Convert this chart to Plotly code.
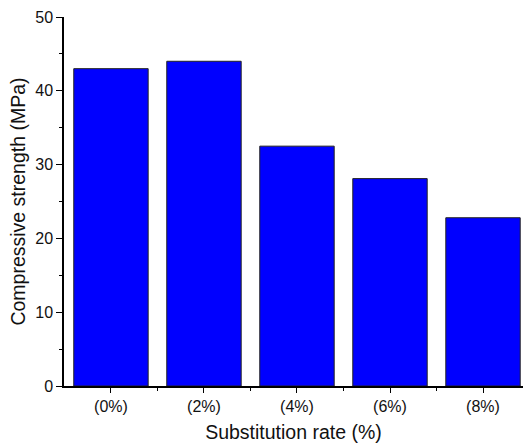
import plotly.graph_objects as go

categories = ["(0%)", "(2%)", "(4%)", "(6%)", "(8%)"]
strength = [43.0, 44.0, 32.5, 28.1, 22.8]
y_ticks = [0, 10, 20, 30, 40, 50]

xpos = list(range(len(categories)))

fig = go.Figure()
fig.add_trace(go.Bar(
    x=xpos, y=strength, width=0.8,
    marker=dict(color="#0000FF", line=dict(color="#222222", width=1)),
))

font = "Liberation Sans, Arial, sans-serif"
fig.update_layout(
    width=523, height=443,
    margin=dict(l=64, r=0, t=17, b=57, autoexpand=False),
    plot_bgcolor="white", paper_bgcolor="white",
    showlegend=False,
    font=dict(family=font, size=16, color="#111111"),
    xaxis=dict(
        range=[-0.505, 4.43],
        tickmode="array", tickvals=xpos, ticktext=categories,
        ticks="outside", ticklen=5, tickwidth=1.3, tickcolor="black",
        showline=True, linecolor="black", linewidth=1.5,
        showgrid=False, zeroline=False, automargin=False,
        minor=dict(tickmode="array", tickvals=[0.5, 1.5, 2.5, 3.5], ticks="outside",
                   ticklen=3, tickwidth=1.3, tickcolor="black", showgrid=False),
        title=dict(text="Substitution rate (%)", font=dict(size=19.5), standoff=12),
        tickfont=dict(size=16),
    ),
    yaxis=dict(
        range=[0, 50],
        tickmode="array", tickvals=y_ticks,
        ticks="outside", ticklen=6, tickwidth=1.3, tickcolor="black",
        showline=True, linecolor="black", linewidth=1.5,
        showgrid=False, zeroline=False, automargin=False,
        minor=dict(dtick=5, tick0=0, ticks="outside", ticklen=3, tickwidth=1.3,
                   tickcolor="black", showgrid=False),
        title=dict(text="Compressive strength (MPa)", font=dict(size=19.5), standoff=4),
        tickfont=dict(size=16),
    ),
)

fig.write_html("out.html", config={"displayModeBar": False},
               post_script="document.body.style.margin='0';")
